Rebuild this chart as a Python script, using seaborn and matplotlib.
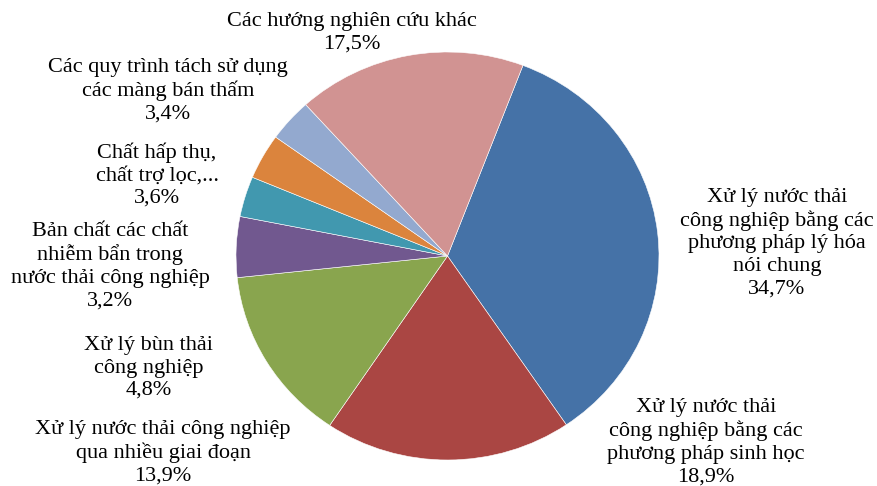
import matplotlib
matplotlib.use("Agg")
import matplotlib.pyplot as plt
import seaborn as sns

sns.set_theme(style="white")
plt.rcParams['font.family'] = ['Liberation Serif', 'DejaVu Serif']

categories = [
    "Xử lý nước thải\ncông nghiệp bằng các\nphương pháp lý hóa\nnói chung",
    "Xử lý nước thải\ncông nghiệp bằng các\nphương pháp sinh học",
    "Xử lý nước thải công nghiệp\nqua nhiều giai đoạn",
    "Xử lý bùn thải\ncông nghiệp",
    "Bản chất các chất\nnhiễm bẩn trong\nnước thải công nghiệp",
    "Chất hấp thụ,\nchất trợ lọc,...",
    "Các quy trình tách sử dụng\ncác màng bán thấm",
    "Các hướng nghiên cứu khác",
]
values = [34.7, 18.9, 13.9, 4.8, 3.2, 3.6, 3.4, 17.5]
colors = ["#4572A7", "#AA4643", "#89A54E", "#71588F",
          "#4198AF", "#DB843D", "#93A9CF", "#D19392"]

W, H = 877, 486
fig = plt.figure(figsize=(W / 100, H / 100), dpi=100)
ax = fig.add_axes([0, 0, 1, 1])

# pie centre and radii in pixels
cx, cy, rx, ry = 447.5, 256, 211.5, 204
ax.pie(values, colors=colors, startangle=69.1, counterclock=False,
       wedgeprops=dict(edgecolor="white", linewidth=0.4))
ax.set_aspect('auto')
ax.set_xlim(-cx / rx, (W - cx) / rx)
ax.set_ylim((cy - H) / ry, cy / ry)
ax.axis('off')

# label centres in pixels (x, y from top)
label_pos = [(777, 243), (706, 442), (163, 453), (149, 368),
             (110, 266), (157, 175), (168, 91), (352, 33)]

for cat, v, (px, py) in zip(categories, values, label_pos):
    txt = cat + "\n" + f"{v:.1f}%".replace('.', ',')
    fig.text(px / W, 1 - py / H, txt, ha='center', va='center',
             fontsize=16, linespacing=1.25, color='black')

fig.savefig("out.png", dpi=100, facecolor='white')
